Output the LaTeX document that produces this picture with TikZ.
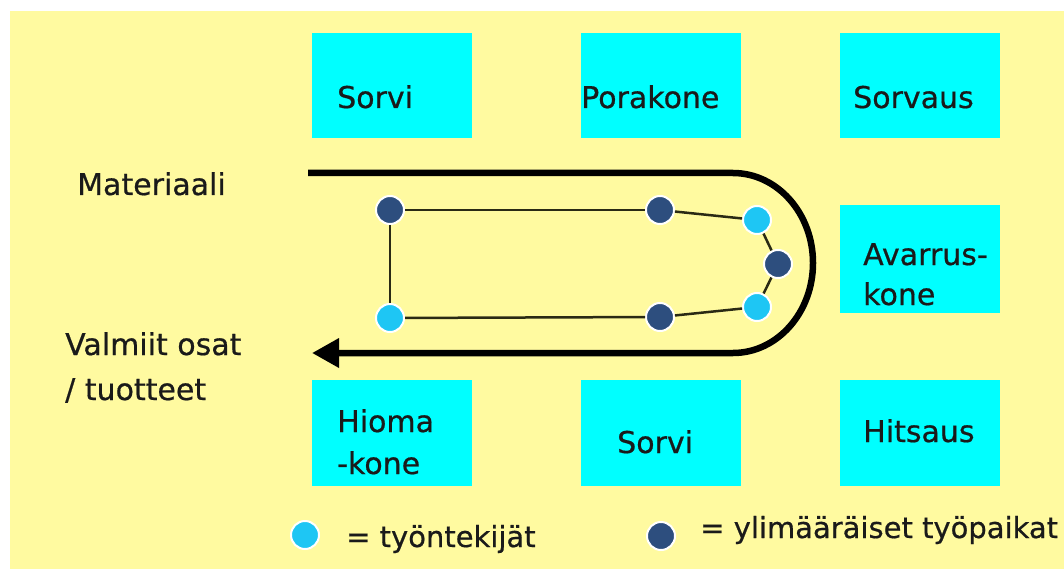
\documentclass[tikz,border=0pt]{standalone}
\usepackage{fontspec}
\setmainfont{DejaVu Sans}
\newfontfamily\heavysans{DejaVu Sans}[FakeBold=0.6]
\usetikzlibrary{arrows.meta}
\definecolor{bgyellow}{HTML}{FFFAA0}
\definecolor{boxcyan}{HTML}{00FFFF}
\definecolor{worker}{HTML}{1EC6F4}
\definecolor{extra}{HTML}{2D4E7E}
\definecolor{ink}{HTML}{1A1A1A}
\definecolor{linkink}{HTML}{2A2A14}
\begin{document}
\begin{tikzpicture}[x=1pt,y=-1pt,
  machine/.style={fill=boxcyan, draw=none, minimum width=160pt, minimum height=105pt, anchor=north west, inner sep=0pt},
  lbl/.style={anchor=base west, inner sep=0pt, text=ink, font=\heavysans\fontsize{30}{34}\selectfont},
  leglbl/.style={lbl, font=\heavysans\fontsize{29}{34}\selectfont},
  dot/.style={circle, draw=white, line width=2pt, minimum size=28pt, inner sep=0pt},
  workerdot/.style={dot, fill=worker},
  extradot/.style={dot, fill=extra},
  link/.style={draw=linkink, line width=2.5pt},
  flow/.style={draw=black, line width=6.5pt}
]
\useasboundingbox (0,0) rectangle (1064,569);
\fill[white] (0,0) rectangle (1064,569);
\fill[bgyellow] (10,11) rectangle (1064,569);

% machines
\node[machine] (sorvi1) at (312,33) {};
\node[machine] (pora) at (581,33) {};
\node[machine] (sorvaus) at (840,33) {};
\node[machine, minimum height=108pt] (avarrus) at (840,205) {};
\node[machine, minimum height=106pt] (hioma) at (312,380) {};
\node[machine, minimum height=106pt] (sorvi2) at (581,380) {};
\node[machine, minimum height=106pt] (hitsaus) at (840,380) {};

% texts
\node[lbl] (tsorvi1) at (337,108) {Sorvi};
\node[lbl] (tpora) at (581,108) {Porakone};
\node[lbl] (tsorvaus) at (853,108) {Sorvaus};
\node[lbl] (tavarrus1) at (863,265) {Avarrus-};
\node[lbl] (tavarrus2) at (863,305) {kone};
\node[lbl] (thioma1) at (337,432) {Hioma};
\node[lbl] (thioma2) at (337,474) {-kone};
\node[lbl] (tsorvi2) at (617,453) {Sorvi};
\node[lbl] (thitsaus) at (863,442) {Hitsaus};
\node[lbl] (tmat) at (77,195) {Materiaali};
\node[lbl] (tval1) at (65,355) {Valmiit osat};
\node[lbl] (tval2) at (65,400) {/ tuotteet};
\node[leglbl] (tleg1) at (346,547) {= työntekijät};
\node[leglbl] (tleg2) at (700,538) {= ylimääräiset työpaikat};

% material flow
\coordinate (flowin) at (308,173);
\coordinate (turnA) at (733,173);
\coordinate (apex) at (813,263);
\coordinate (turnB) at (733,353);
\coordinate (flowout) at (312,353);
\draw[flow, -{Triangle[length=27pt,width=28pt]}] (flowin) -- (turnA)
  .. controls (777.2,173) and (813,213.3) .. (apex)
  .. controls (813,312.7) and (777.2,353) .. (turnB) -- (flowout);

% work places
\node[extradot] (d1) at (390,210) {};
\node[workerdot] (w1) at (390,318) {};
\node[extradot] (d2) at (660,210) {};
\node[workerdot] (w2) at (757,220) {};
\node[extradot] (d3) at (778,264) {};
\node[workerdot] (w3) at (757,307) {};
\node[extradot] (d4) at (660,317) {};

\draw[link] (d1) -- (d2);
\draw[link] (d1) -- (w1);
\draw[link] (w1) -- (d4);
\draw[link] (d2) -- (w2);
\draw[link] (w2) -- (d3);
\draw[link] (d3) -- (w3);
\draw[link] (w3) -- (d4);

% legend
\node[workerdot] (legw) at (305,535) {};
\node[extradot] (lege) at (661,536) {};
\end{tikzpicture}
\end{document}
